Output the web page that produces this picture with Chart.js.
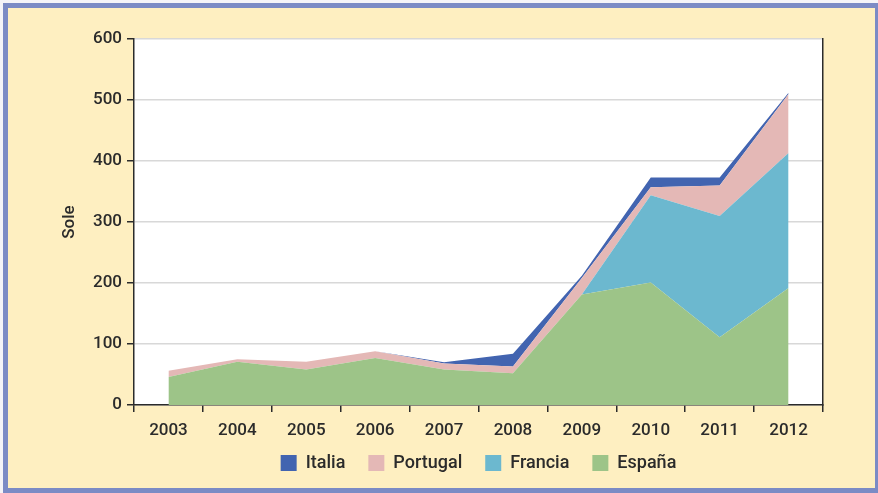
<!DOCTYPE html>
<html>
<head>
<meta charset="utf-8">
<script src="https://cdn.jsdelivr.net/npm/chart.js@4/dist/chart.umd.min.js"></script>
<style>
    html, body { margin: 0; padding: 0; background: #f4f4f8; overflow: hidden; }
    #marco {
        position: absolute; left: 3px; top: 3px;
        width: 877px; height: 490px; box-sizing: border-box;
        border: 5px solid #7b8bc5; background: #feefc1;
    }
    #grafico { display: block; }
</style>
</head>
<body>
<div id="marco"><canvas id="grafico" width="867" height="480"></canvas></div>
<script>
// datos (toneladas de lenguado)
const anios = ['2003', '2004', '2005', '2006', '2007', '2008', '2009', '2010', '2011', '2012'];
const espana   = [46, 71, 58, 77, 58, 52, 181, 201, 111, 192];
const francia  = [0, 0, 0, 0, 0, 0, 0, 143, 199, 221];
const portugal = [10, 4, 13, 11, 10, 11, 27, 13, 50, 97];
const italia   = [0, 0, 0, 0, 2, 21, 4, 16, 13, 2];
const ticksY   = [0, 100, 200, 300, 400, 500, 600];

const fuente = { family: 'Roboto', size: 17, weight: '500' };
const oscuro = '#2b2b2b';

// el orden de apilado: España abajo, Italia arriba
const series = [
    { label: 'España',   data: espana,   color: '#9dc488', fill: 'origin' },
    { label: 'Francia',  data: francia,  color: '#6cb8cf', fill: '-1' },
    { label: 'Portugal', data: portugal, color: '#e4b8b6', fill: '-1' },
    { label: 'Italia',   data: italia,   color: '#4264b0', fill: '-1' }
];

// fondo blanco solo en el area del grafico
const fondoBlanco = {
    id: 'fondoBlanco',
    afterLayout: (chart) => {
        // deja sitio a los años, que el eje x es bajito
        chart.scales.x.bottom += 25;
        // leyenda centrada bajo el area del grafico
        chart.legend.left = chart.chartArea.left;
        chart.legend.right = chart.chartArea.right;
    },
    beforeDraw: (chart) => {
        const { ctx, chartArea: { top, bottom, left, right } } = chart;
        ctx.save();
        ctx.fillStyle = '#ffffff';
        ctx.fillRect(left, top, right - left, bottom - top);
        ctx.restore();
    }
};

const dataArea = {
    type: 'line',
    data: {
        labels: anios,
        datasets: series.map(s => ({
            label: s.label,
            data: s.data,
            backgroundColor: s.color,
            borderColor: s.color,
            borderWidth: 0,
            pointRadius: 0,
            fill: s.fill,
            tension: 0
        }))
    },
    options: {
        responsive: false,
        animation: false,
        layout: { padding: { top: 31, left: 0, right: 0, bottom: 6 } },
        scales: {
            x: {
                offset: true,
                grid: { offset: true, drawOnChartArea: false, tickLength: 7, color: oscuro, lineWidth: 1.5 },
                border: { color: oscuro, width: 1.5 },
                ticks: { color: oscuro, font: fuente, padding: 9, maxRotation: 0 },
                afterFit: (s) => { s.height = 26; }
            },
            y: {
                stacked: true,
                min: 0, max: 600,
                afterBuildTicks: (s) => { s.ticks = ticksY.map(v => ({ value: v })); },
                grid: { color: '#d8d8d8', lineWidth: 1.5, tickColor: oscuro, tickLength: 7 },
                border: { color: oscuro, width: 1.5 },
                ticks: { color: oscuro, font: fuente, padding: 5 },
                title: { display: true, text: 'Sole', color: oscuro, font: fuente, padding: { top: 52, bottom: 0 } },
                afterFit: (s) => { s.width = 126; }
            },
            y2: {
                position: 'right',
                min: 0, max: 600,
                grid: { drawOnChartArea: false, drawTicks: false },
                border: { color: oscuro, width: 1.5 },
                ticks: { display: false },
                afterFit: (s) => { s.width = 52; }
            }
        },
        plugins: {
            tooltip: { enabled: false },
            legend: {
                position: 'bottom',
                reverse: true,
                labels: {
                    color: oscuro, font: { family: 'Roboto', size: 18, weight: '500' },
                    boxWidth: 16, boxHeight: 16, padding: 23,
                    useBorderRadius: false
                }
            }
        }
    },
    plugins: [fondoBlanco]
};

const miGrafico = new Chart(document.getElementById('grafico'), dataArea);
</script>
</body>
</html>
